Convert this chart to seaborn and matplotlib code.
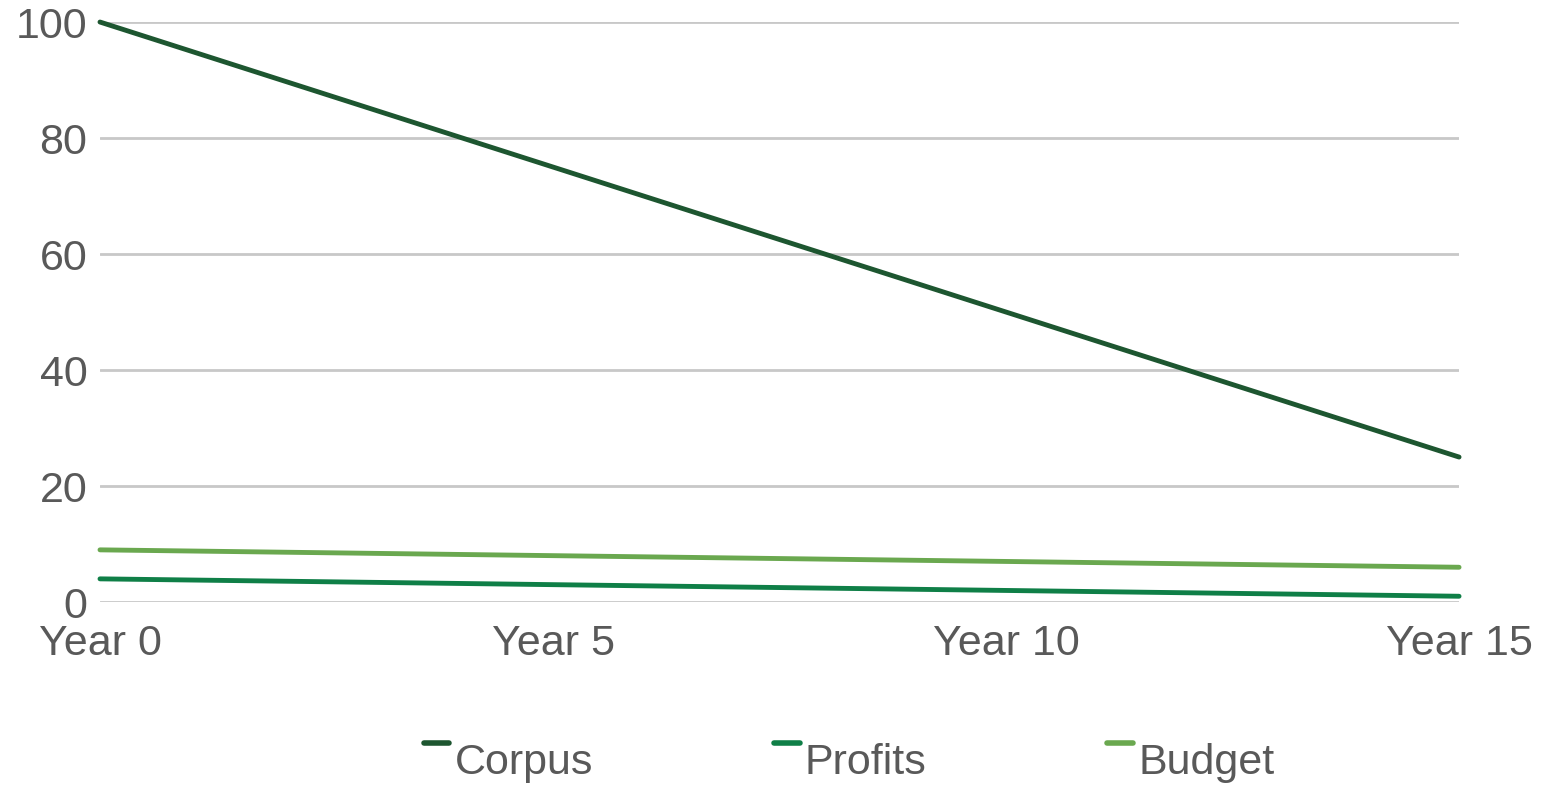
import pandas as pd
import matplotlib.pyplot as plt
import seaborn as sns
from matplotlib.legend_handler import HandlerLine2D

# values
years = ["Year 0", "Year 5", "Year 10", "Year 15"]
corpus = [100, 75, 50, 25]
profits = [4, 3, 2, 1]
budget = [9, 8, 7, 6]

series = ["Corpus", "Profits", "Budget"]
colors = ["#1d5630", "#0f7f47", "#6aa84f"]

df = pd.DataFrame({
    "Year": years * 3,
    "Value": corpus + profits + budget,
    "Series": ["Corpus"] * 4 + ["Profits"] * 4 + ["Budget"] * 4,
})


class RaisedLine(HandlerLine2D):
    # excel-style legend key: short dash sitting near the top of the text
    def create_artists(self, legend, orig_handle, xdescent, ydescent,
                       width, height, fontsize, trans):
        arts = super().create_artists(legend, orig_handle, xdescent, ydescent,
                                      width, height, fontsize, trans)
        for a in arts:
            a.set_ydata([y + height * 0.55 for y in a.get_ydata()])
            a.set_linewidth(4)
        return arts


sns.set_style("white")
plt.rcParams["font.family"] = ["Liberation Sans", "DejaVu Sans"]

fig = plt.figure(figsize=(15.55, 7.87), dpi=100)
ax = fig.add_axes([0.0643, 0.235, 0.874, 0.737])

sns.lineplot(data=df, x="Year", y="Value", hue="Series", hue_order=series,
             palette=colors, linewidth=3.5, sort=False, ax=ax, clip_on=False,
             zorder=3)

ax.set_xlim(0, 3)
ax.set_ylim(0, 100)
ax.set_yticks([0, 20, 40, 60, 80, 100])
ax.yaxis.grid(True, color="#c8c8c8", linewidth=2)
ax.set_axisbelow(True)
for s in ax.spines.values():
    s.set_visible(False)
ax.tick_params(axis="both", length=0, labelsize=31, labelcolor="#595959")
ax.tick_params(axis="y", pad=9)
ax.tick_params(axis="x", pad=16)
ax.set_xlabel("")
ax.set_ylabel("")

handles, labels = ax.get_legend_handles_labels()
ax.legend(handles, labels, loc="center", bbox_to_anchor=(0.546, 0.03),
          bbox_transform=fig.transFigure, ncol=3, frameon=False, fontsize=31,
          labelcolor="#595959", handlelength=0.6, handletextpad=0.12,
          columnspacing=4.2, handler_map={h: RaisedLine() for h in handles})

fig.savefig("out.png", dpi=100)
